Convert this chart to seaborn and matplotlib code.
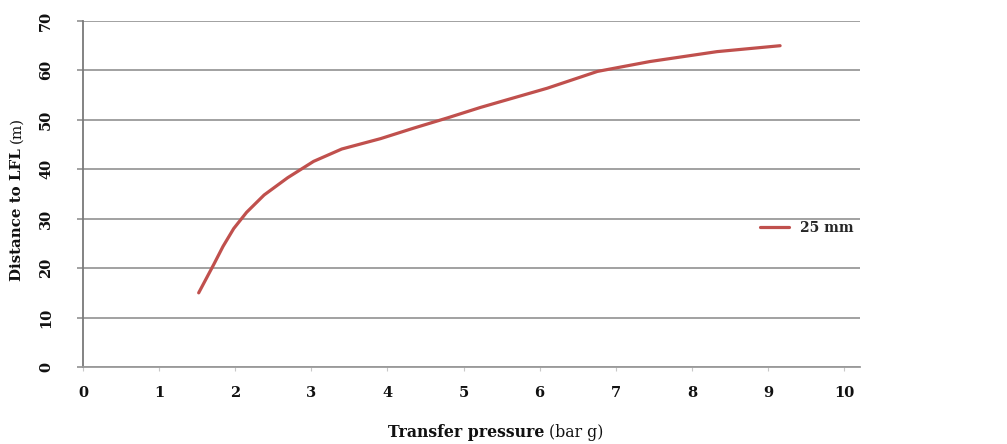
import matplotlib
matplotlib.use("Agg")
import matplotlib.pyplot as plt
import seaborn as sns
import pandas as pd

# ---- data ----
pressure = [1.52, 1.62, 1.72, 1.84, 1.98, 2.15, 2.38, 2.69, 3.03, 3.40,
            3.91, 4.34, 4.79, 5.22, 5.49, 6.10, 6.76, 7.45, 8.33, 9.16]
distance = [15.0, 17.9, 20.8, 24.4, 28.0, 31.3, 34.8, 38.3, 41.6, 44.1,
            46.2, 48.3, 50.4, 52.5, 53.7, 56.4, 59.8, 61.8, 63.8, 65.0]
series_name = "25 mm"
x_ticks = [0, 1, 2, 3, 4, 5, 6, 7, 8, 9, 10]
y_ticks = [0, 10, 20, 30, 40, 50, 60, 70]
x_label_bold = "Transfer pressure"
x_label_unit = "(bar g)"
y_label_bold = "Distance to LFL"
y_label_unit = "(m)"

sns.set_theme(style="white")
plt.rcParams['font.family'] = ['DejaVu Serif', 'Liberation Serif']

W, H = 1007, 444
fig = plt.figure(figsize=(W / 100, H / 100), dpi=100)
left, right, top, bottom = 83, 860, 21, 367
ax = fig.add_axes([left / W, 1 - bottom / H, (right - left) / W, (bottom - top) / H])

df = pd.DataFrame({"pressure": pressure, "distance": distance,
                   "series": [series_name] * len(pressure)})
sns.lineplot(data=df, x="pressure", y="distance", hue="series",
             palette=["#C0504D"], linewidth=2.3, sort=False, ax=ax)

ax.set_xlim(0, 10.21)
ax.set_ylim(0, 70)
ax.set_xticks(x_ticks)
ax.set_yticks(y_ticks)
ax.set_xticklabels([str(v) for v in x_ticks], fontsize=10.5, fontweight='bold')
ax.set_yticklabels([str(v) for v in y_ticks], fontsize=10.5, fontweight='bold',
                   rotation=90, va='center')
ax.set_xlabel("")
ax.set_ylabel("")

ax.yaxis.grid(True, color='#9a9a9a', linewidth=1.3)
ax.xaxis.grid(False)
for s in ['top', 'right']:
    ax.spines[s].set_visible(False)
ax.spines['left'].set_color('#7a7a7a')
ax.spines['left'].set_linewidth(1.3)
ax.spines['bottom'].set_color('#9a9a9a')
ax.spines['bottom'].set_linewidth(1.3)
ax.tick_params(axis='y', which='major', left=True, length=4.5, width=1.3,
               color='#9a9a9a', pad=17, labelcolor='#111111')
ax.tick_params(axis='x', which='major', bottom=True, length=3, width=0.8,
               color='#c8c8c8', pad=11, labelcolor='#111111')

sns.move_legend(ax, "center left", bbox_to_anchor=(760 / W, 1 - 228 / H),
                bbox_transform=fig.transFigure, frameon=False, title=None,
                prop={'weight': 'bold', 'size': 10}, handlelength=2.1,
                handletextpad=0.75, borderpad=0, borderaxespad=0)

# axis titles: bold part + regular unit
fig.text(544 / W, 1 - 437 / H, x_label_bold, ha='right', va='baseline',
         fontsize=11.3, fontweight='bold', color='#111111')
fig.text(549 / W, 1 - 437 / H, x_label_unit, ha='left', va='baseline',
         fontsize=11.3, color='#111111')
fig.text(17 / W, 1 - 148 / H, y_label_bold, ha='center', va='top',
         rotation=90, fontsize=10.8, fontweight='bold', color='#111111')
fig.text(17 / W, 1 - 143 / H, y_label_unit, ha='center', va='bottom',
         rotation=90, fontsize=10.8, color='#111111')

fig.savefig("out.png", dpi=100)
